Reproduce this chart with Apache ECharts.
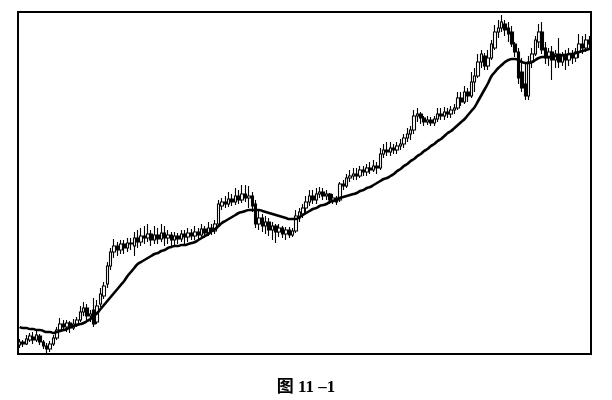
<!DOCTYPE html>
<html>
<head>
<meta charset="utf-8">
<script src="https://cdn.jsdelivr.net/npm/echarts@6/dist/echarts.min.js"></script>
<style>
html,body{margin:0;padding:0;background:#fff;}
#c{width:612px;height:400px;}
</style>
</head>
<body>
<div id="c"></div>
<script>
// Candles: [open, close, low, high] (price index units)
const candles = [
[9,12,6,15],[12,10,7,14],[10,15,9,19],[14,18,12,21],[17,14,10,22],
[14,19,12,24],[18,12,9,20],[12,8,5,14],[8,5,1,11],[5,10,2,13],
[10,16,8,19],[16,24,14,27],[24,30,22,36],[30,27,24,34],[27,31,22,34],
[31,26,21,33],[26,30,24,35],[30,34,27,37],[34,42,32,48],[42,46,38,52],
[46,38,34,50],[38,40,32,44],[44,30,27,56],[32,48,30,54],[50,60,47,66],
[58,68,55,72],[70,88,66,92],[88,102,84,106],[102,108,96,115],[108,104,98,112],
[104,110,100,114],[110,106,100,114],[106,111,102,116],[111,110,104,116],[108,116,98,122],
[116,112,106,124],[112,118,108,126],[118,116,110,128],[116,120,112,130],[120,114,108,124],
[114,119,110,128],[119,115,110,126],[115,121,112,130],[121,116,108,128],[116,119,110,124],
[119,114,106,122],[114,118,108,122],[118,115,110,121],[115,120,112,124],[120,117,110,124],
[117,121,112,126],[121,118,114,125],[118,122,114,128],[122,119,115,126],[119,125,116,130],
[125,121,116,128],[121,126,118,132],[126,123,119,130],[123,130,120,134],[130,150,127,154],
[148,152,144,156],[152,150,146,158],[150,155,147,162],[155,152,148,160],[152,158,149,166],
[158,154,150,164],[154,160,151,169],[160,156,152,169],[156,158,146,168],[158,148,142,162],
[150,130,126,154],[130,136,124,144],[136,128,122,140],[128,132,120,138],[132,124,118,136],
[124,128,114,132],[128,122,111,130],[122,126,117,130],[126,120,116,128],[120,124,114,127],
[124,119,116,127],[119,123,117,126],[123,138,121,144],[136,142,132,146],[140,146,136,150],
[146,152,140,158],[152,158,148,164],[158,154,150,164],[154,160,150,166],[160,162,156,167],
[162,158,154,166],[158,160,154,164],[160,154,150,161],[154,156,150,160],[156,152,149,158],
[154,170,152,172],[170,168,164,174],[168,176,166,180],[176,178,172,184],[178,180,174,186],
[180,178,174,186],[178,184,176,188],[184,182,178,188],[182,186,178,190],[186,184,180,192],
[184,188,182,194],[188,186,180,192],[186,200,184,206],[200,204,196,210],[204,202,198,212],
[202,206,198,212],[206,204,200,210],[204,208,200,212],[208,210,204,215],[210,216,206,220],
[216,220,212,226],[220,224,214,228],[224,238,220,244],[238,240,232,246],[240,236,230,242],
[236,232,228,238],[232,234,229,238],[234,231,228,237],[231,235,228,238],[235,240,232,246],
[240,238,234,246],[238,242,234,247],[242,240,236,246],[240,244,236,248],[244,246,240,250],
[246,256,244,262],[256,252,248,262],[252,262,250,268],[262,258,252,266],[258,272,256,282],
[272,278,262,286],[278,292,276,300],[292,300,286,304],[298,288,284,301],[288,296,284,304],
[296,310,294,314],[306,322,304,329],[322,326,316,334],[326,332,322,339],[330,324,318,334],
[326,320,312,332],[322,310,307,328],[310,302,297,312],[302,276,270,306],[282,266,262,296],
[270,258,254,290],[258,292,254,298],[292,300,286,306],[300,314,298,318],[312,322,306,330],
[322,304,300,332],[306,296,290,312],[296,302,288,306],[302,294,274,308],[294,300,286,304],
[300,292,286,316],[292,298,288,302],[298,294,284,304],[294,300,288,306],[300,296,290,304],
[296,302,292,306],[302,310,296,320],[310,306,300,318],[306,314,302,320],[314,310,304,318]
];
// Moving average line values
const ma = [
27,26,26,25,25,24,
24,23,22,22,21,
22,23,24,25,27,
28,29,30,31,33,
35,38,41,45,49,
53,57,61,65,69,
73,78,82,86,90,
92,94,96,98,100,
101,103,104,106,107,
108,108,109,109,110,
111,112,114,116,118,
120,123,125,128,131,
133,135,137,139,141,
142,143,144,144,144,
144,143,142,141,140,
139,138,137,136,135,
135,135,137,139,141,
143,145,146,148,149,
150,152,153,154,156,
157,158,159,160,161,
163,164,166,167,169,
171,173,175,176,178,
180,183,185,188,190,
193,195,198,200,203,
205,208,210,213,215,
218,221,223,226,229,
232,235,239,243,247,
253,259,265,271,278,
282,286,289,292,294,
295,295,294,292,291,
291,292,294,296,297,
297,297,298,298,298,
299,299,300,300,301,
302,303,304,305
];
const caption = '图 11 –1';
const categories = candles.map((_, i) => String(i + 1));

const chart = echarts.init(document.getElementById('c'), null, {renderer: 'canvas'});
chart.setOption({
  backgroundColor: '#ffffff',
  animation: false,
  grid: {left: 18, right: 21, top: 12, bottom: 46, show: true,
         borderColor: '#000', borderWidth: 2, backgroundColor: 'transparent'},
  title: {text: caption, left: 'center', top: 374,
          textStyle: {fontFamily: 'Liberation Serif, "Noto Sans CJK SC"', fontWeight: 'bold', fontSize: 17, color: '#000'}},
  xAxis: {type: 'category', data: categories, boundaryGap: true,
          axisLine: {show: false}, axisTick: {show: false}, axisLabel: {show: false}, splitLine: {show: false}},
  yAxis: {type: 'value', min: 0, max: 342, interval: 342,
          axisLine: {show: false}, axisTick: {show: false}, axisLabel: {show: false}, splitLine: {show: false}},
  series: [
    {type: 'candlestick', data: candles.map(d => [d[0], d[1], d[2], d[3]]), barWidth: 3,
     itemStyle: {color: '#ffffff', color0: '#000000', borderColor: '#000000', borderColor0: '#000000', borderWidth: 1.1}},
    {type: 'line', data: ma, symbol: 'none', smooth: true,
     lineStyle: {color: '#000', width: 2.6}, z: 3}
  ]
});
</script>
</body>
</html>
